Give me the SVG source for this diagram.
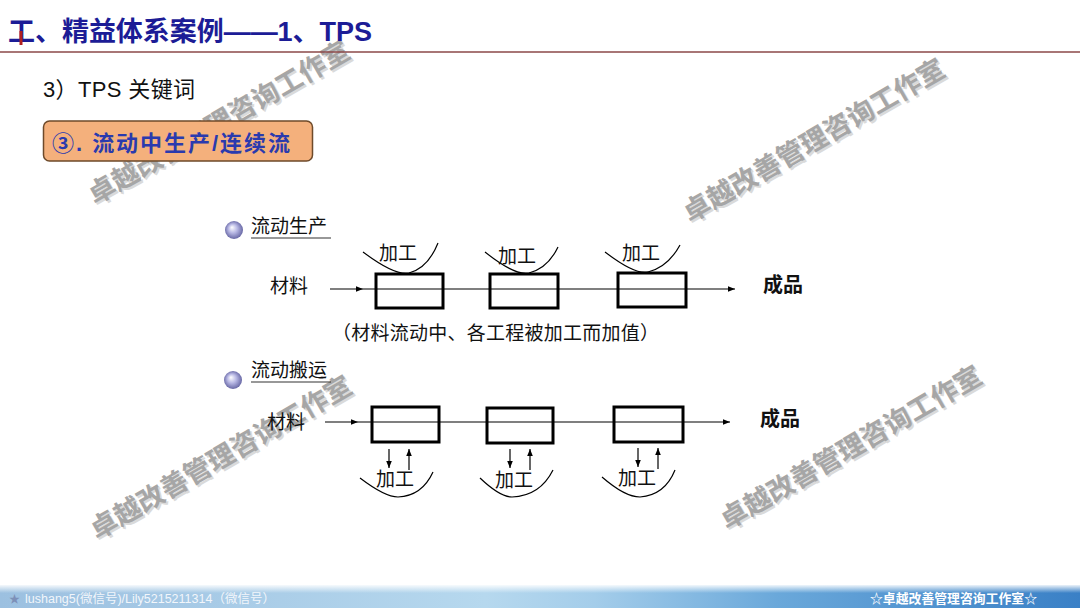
<svg xmlns="http://www.w3.org/2000/svg" width="1080" height="608" viewBox="0 0 1080 608">
<style>
.cjk{font-family:"Liberation Sans","Noto Sans CJK SC",sans-serif;}
.lbl{font-family:"Liberation Sans","Noto Sans CJK SC",sans-serif;font-size:19px;fill:#111;}
.box{fill:none;stroke:#000;stroke-width:3;}
.ln{fill:none;stroke:#000;stroke-width:1.2;}
.cv{fill:none;stroke:#000;stroke-width:1.2;}
.wm{font-family:"Noto Sans CJK SC",sans-serif;font-size:27px;font-weight:bold;fill:#a6a6a6;}
.wms{font-family:"Noto Sans CJK SC",sans-serif;font-size:27px;font-weight:bold;fill:#dadada;}
.ul{stroke:#333;stroke-width:1.2;}
</style>
<defs>
<marker id="ah" viewBox="0 0 10 10" refX="10" refY="5" markerWidth="7" markerHeight="7" markerUnits="userSpaceOnUse" orient="auto">
<path d="M0,1 L10,5 L0,9 Z" fill="#000"/>
</marker>
<radialGradient id="ball" cx="0.5" cy="0.5" r="0.55" fx="0.38" fy="0.35">
<stop offset="0" stop-color="#ffffff"/>
<stop offset="0.45" stop-color="#b8b8e4"/>
<stop offset="1" stop-color="#5c5c9c"/>
</radialGradient>
<linearGradient id="foot" x1="0" y1="0" x2="1" y2="0">
<stop offset="0" stop-color="#9cc0e0"/>
<stop offset="0.45" stop-color="#b6d8ee"/>
<stop offset="0.55" stop-color="#a4cdea"/>
<stop offset="0.72" stop-color="#6aa8da"/>
<stop offset="1" stop-color="#3a80c6"/>
</linearGradient>
<linearGradient id="footTop" x1="0" y1="0" x2="0" y2="1">
<stop offset="0" stop-color="#ffffff" stop-opacity="0.9"/>
<stop offset="0.35" stop-color="#ffffff" stop-opacity="0"/>
</linearGradient>
</defs>
<rect x="0" y="0" width="1080" height="608" fill="#ffffff"/>

<!-- watermarks (beneath everything) -->
<g id="watermarks">
<text class="wms" transform="translate(97,207) rotate(-30)">卓越改善管理咨询工作室</text>
<text class="wm" transform="translate(95,205) rotate(-30)">卓越改善管理咨询工作室</text>
<text class="wms" transform="translate(692,225) rotate(-30)">卓越改善管理咨询工作室</text>
<text class="wm" transform="translate(690,223) rotate(-30)">卓越改善管理咨询工作室</text>
<text class="wms" transform="translate(99,542) rotate(-30)">卓越改善管理咨询工作室</text>
<text class="wm" transform="translate(97,540) rotate(-30)">卓越改善管理咨询工作室</text>
<text class="wms" transform="translate(729,532) rotate(-30)">卓越改善管理咨询工作室</text>
<text class="wm" transform="translate(727,530) rotate(-30)">卓越改善管理咨询工作室</text>
</g>

<!-- header -->
<g id="title">
<text x="8" y="41" class="cjk" font-size="27" font-weight="bold" fill="#1c1c96" textLength="364" lengthAdjust="spacing">工、精益体系案例——1、TPS</text>
<line x1="21" y1="31" x2="21" y2="45" stroke="#b02020" stroke-width="3"/>
<line x1="0" y1="52" x2="1080" y2="52" stroke="#8b4848" stroke-width="1.5"/>
</g>

<g id="subtitle">
<text x="43" y="97" class="cjk" font-size="22" fill="#111" textLength="152" lengthAdjust="spacing">3）TPS 关键词</text>
</g>

<g id="topic">
<rect x="43.5" y="121" width="269" height="40" rx="6" fill="#f4b07c" stroke="#6e4a2a" stroke-width="1.5"/>
<text x="52" y="151" class="cjk" font-size="22" font-weight="bold" fill="#2a3aae" textLength="238" lengthAdjust="spacing">③. 流动中生产/连续流</text>
</g>

<!-- section 1 -->
<g id="sec1-head">
<circle cx="234" cy="230" r="9" fill="url(#ball)"/>
<text x="251" y="233" class="lbl">流动生产</text>
<line x1="251" y1="238" x2="331" y2="238" class="ul"/>
</g>
<g id="sec1-in"><text x="270" y="293" class="lbl">材料</text></g>
<g id="sec1-box1">
<rect x="376" y="274" width="67" height="34" class="box"/>
<path d="M363,252 Q395,276 409,273 Q428,268 438,243" class="cv"/>
<text x="379" y="260" class="lbl">加工</text>
</g>
<g id="sec1-box2">
<rect x="490" y="274" width="68" height="34" class="box"/>
<path d="M485,252 Q515,276 529,273 Q548,268 558,247" class="cv"/>
<text x="498" y="263" class="lbl">加工</text>
</g>
<g id="sec1-box3">
<rect x="618" y="273" width="68" height="34" class="box"/>
<path d="M605,252 Q635,275 648,272 Q668,267 680,245" class="cv"/>
<text x="622" y="260" class="lbl">加工</text>
</g>
<g id="sec1-out"><text x="763" y="292" class="cjk" font-size="20" font-weight="bold" fill="#111">成品</text></g>
<g id="sec1-caption"><text x="332" y="340" class="lbl" textLength="327" lengthAdjust="spacing">（材料流动中、各工程被加工而加值）</text></g>

<!-- section 2 -->
<g id="sec2-head">
<circle cx="233" cy="380" r="9" fill="url(#ball)"/>
<text x="251" y="377" class="lbl">流动搬运</text>
<line x1="251" y1="382" x2="331" y2="382" class="ul"/>
</g>
<g id="sec2-in"><text x="267" y="429" class="lbl">材料</text></g>
<g id="sec2-box1">
<rect x="372" y="407" width="67" height="35" class="box"/>
<path d="M360,478 Q385,497 398,497 Q422,496 433,472" class="cv"/>
<text x="376" y="486" class="lbl">加工</text>
</g>
<g id="sec2-box2">
<rect x="487" y="408" width="66" height="35" class="box"/>
<path d="M480,478 Q500,497 512,497 Q540,496 553,470" class="cv"/>
<text x="495" y="487" class="lbl">加工</text>
</g>
<g id="sec2-box3">
<rect x="614" y="407" width="69" height="35" class="box"/>
<path d="M602,477 Q625,497 640,497 Q665,495 675,470" class="cv"/>
<text x="618" y="485" class="lbl">加工</text>
</g>
<g id="sec2-out"><text x="760" y="426" class="cjk" font-size="20" font-weight="bold" fill="#111">成品</text></g>

<!-- connectors -->
<g id="connectors">
<line x1="330" y1="289" x2="363" y2="289" class="ln" marker-end="url(#ah)"/>
<line x1="363" y1="289" x2="735" y2="289" class="ln" marker-end="url(#ah)"/>
<line x1="325" y1="422" x2="358" y2="422" class="ln" marker-end="url(#ah)"/>
<line x1="358" y1="422" x2="730" y2="422" class="ln" marker-end="url(#ah)"/>
<line x1="389" y1="449" x2="389" y2="468" class="ln" marker-end="url(#ah)"/>
<line x1="409" y1="470" x2="409" y2="449" class="ln" marker-end="url(#ah)"/>
<line x1="510" y1="449" x2="510" y2="468" class="ln" marker-end="url(#ah)"/>
<line x1="530" y1="470" x2="530" y2="449" class="ln" marker-end="url(#ah)"/>
<line x1="638" y1="448" x2="638" y2="467" class="ln" marker-end="url(#ah)"/>
<line x1="658" y1="469" x2="658" y2="448" class="ln" marker-end="url(#ah)"/>
</g>

<!-- footer -->
<g id="footer">
<rect x="0" y="585" width="1080" height="23" fill="url(#foot)"/>
<rect x="0" y="585" width="1080" height="23" fill="url(#footTop)"/>
<text x="9" y="603" class="cjk" font-size="11" fill="#7d90b8">★</text>
<text x="25" y="603" class="cjk" font-size="12.5" fill="#f2f6fb">lushang5(微信号)/Lily5215211314（微信号）</text>
<text x="870" y="603" class="cjk" font-size="12.8" font-weight="bold" fill="#ffffff" textLength="167" lengthAdjust="spacing">☆卓越改善管理咨询工作室☆</text>
</g>
</svg>
